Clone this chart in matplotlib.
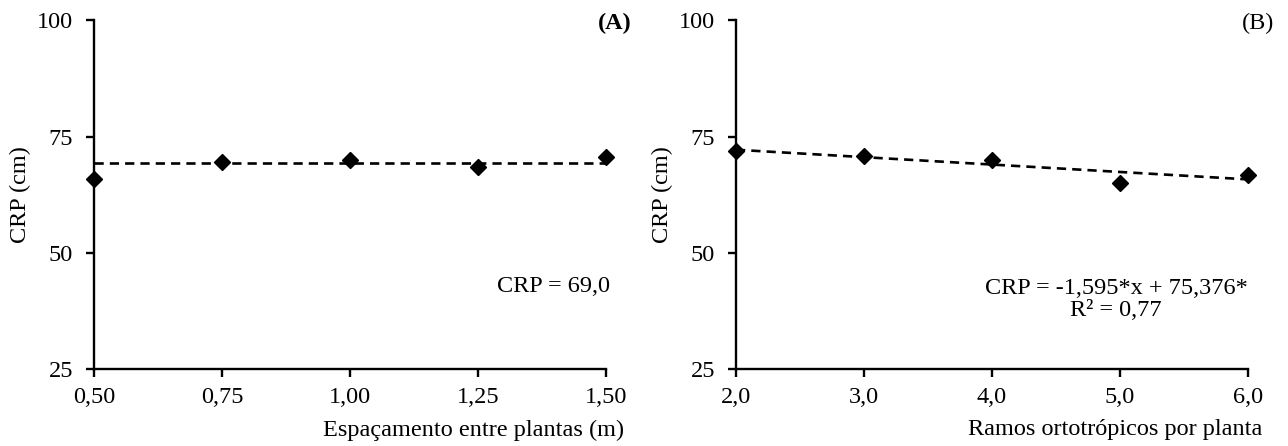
import matplotlib
matplotlib.use("Agg")
import matplotlib.pyplot as plt
import numpy as np

plt.rcParams['font.family'] = ['Liberation Serif', 'DejaVu Serif']

# Panel A data
spacing = [0.50, 0.75, 1.00, 1.25, 1.50]
crp_spacing = [65.9, 69.6, 70.0, 68.4, 70.7]
crp_mean = 69.3
spacing_ticks = ['0,50', '0,75', '1,00', '1,25', '1,50']

# Panel B data
branches = [2.0, 3.0, 4.0, 5.0, 6.0]
crp_branches = [71.9, 70.9, 70.0, 65.0, 66.8]
slope_b = -1.595
intercept_b = 75.376
branch_ticks = ['2,0', '3,0', '4,0', '5,0', '6,0']

y_ticks = [25, 50, 75, 100]

W, H = 1288, 446
fig = plt.figure(figsize=(W / 100, H / 100), dpi=100)

axA = fig.add_axes([94 / W, 1 - 369 / H, (606 - 94) / W, (369 - 20.5) / H])
axB = fig.add_axes([736 / W, 1 - 369 / H, (1248 - 736) / W, (369 - 20.5) / H])

FS = 17.5

def style(ax, xs, xticklabels):
    ax.set_ylim(25, 100)
    ax.set_xlim(xs[0], xs[-1])
    ax.set_yticks(y_ticks)
    ax.set_yticklabels([str(t) for t in y_ticks], fontsize=FS)
    ax.set_xticks(xs)
    ax.set_xticklabels(xticklabels, fontsize=FS)
    for s in ['top', 'right']:
        ax.spines[s].set_visible(False)
    for s in ['left', 'bottom']:
        ax.spines[s].set_linewidth(1.7)
        ax.spines[s].set_color('black')
    ax.tick_params(axis='both', direction='out', length=6, width=1.7, colors='black')
    ax.tick_params(axis='y', pad=9)
    ax.tick_params(axis='x', pad=7)
    ax.set_ylabel('CRP (cm)', fontsize=FS, labelpad=4)

DASH = (0, (3.5, 2.3))

# Panel A
style(axA, spacing, spacing_ticks)
axA.plot([spacing[0], spacing[-1]], [crp_mean, crp_mean], ls=DASH, color='black', lw=1.9, zorder=2)
axA.plot(spacing, crp_spacing, ls='none', marker='D', ms=8, color='black', zorder=3, clip_on=False)
fig.text(624 / W, 1 - 430 / H, 'Espaçamento entre plantas (m)', fontsize=FS, ha='right', va='center')
fig.text(615 / W, 1 - 23 / H, '(A)', fontsize=FS, fontweight='bold', ha='center', va='center')
fig.text(610 / W, 1 - 287 / H, 'CRP = 69,0', fontsize=FS, ha='right', va='center')

# Panel B
style(axB, branches, branch_ticks)
xb = np.array([branches[0], branches[-1]])
axB.plot(xb, slope_b * xb + intercept_b, ls=DASH, color='black', lw=1.9, zorder=2)
axB.plot(branches, crp_branches, ls='none', marker='D', ms=8, color='black', zorder=3, clip_on=False)
fig.text(1262 / W, 1 - 430 / H, 'Ramos ortotrópicos por planta', fontsize=FS, ha='right', va='center')
fig.text(1258 / W, 1 - 23 / H, '(B)', fontsize=FS, ha='center', va='center')
fig.text(1116 / W, 1 - 289 / H, 'CRP = -1,595*x + 75,376*', fontsize=FS, ha='center', va='center')
fig.text(1116 / W, 1 - 311 / H, 'R² = 0,77', fontsize=FS, ha='center', va='center')

fig.savefig('out.png', dpi=100)
